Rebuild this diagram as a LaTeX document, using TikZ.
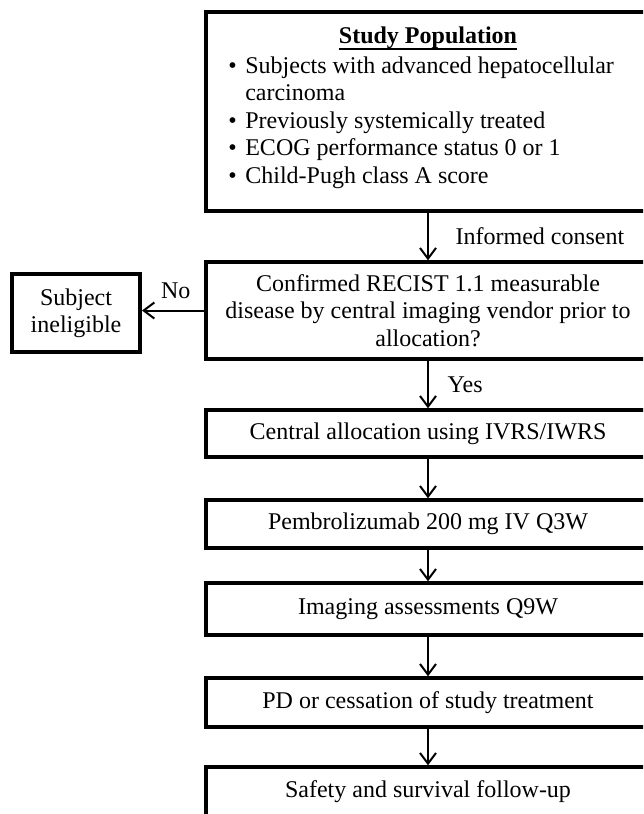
\documentclass[tikz,border=0pt]{standalone}
\usepackage{fontspec}
\setmainfont{Liberation Serif}
\usetikzlibrary{arrows.meta}
\begin{document}
\begin{tikzpicture}[x=0.75pt, y=-0.75pt, >={Straight Barb[length=8pt,width=12pt]}]
\tikzstyle{every node} = [font=\fontsize{18}{20.6}\selectfont, inner sep=0pt]
\tikzstyle{box} = [draw, line width=2.6pt, minimum width=333pt, align=center]
\tikzstyle{flow} = [->, line width=1.5pt]
\useasboundingbox (0,0) rectangle (643,814);
\clip (0,0) rectangle (643,814);
\node[box, line width=3pt, minimum height=149.25pt] (pop) at (428,111.5) {};
\node[anchor=base] (title) at (428,43) {\textbf{Study Population}};
\draw[line width=1.2pt] ([yshift=-4.5pt]title.base west) -- ([yshift=-4.5pt]title.base east);
\node[anchor=base west] (crit1) at (228,73) {\textbullet\hspace{6.5pt}Subjects with advanced hepatocellular};
\node[anchor=base west] (crit1b) at (245,100.5) {carcinoma};
\node[anchor=base west] (crit2) at (228,128) {\textbullet\hspace{6.5pt}Previously systemically treated};
\node[anchor=base west] (crit3) at (228,155.5) {\textbullet\hspace{6.5pt}ECOG performance status 0 or 1};
\node[anchor=base west] (crit4) at (228,183) {\textbullet\hspace{6.5pt}Child-Pugh class A score};
\node[box, minimum height=72.75pt] (dec) at (428,310.5) {Confirmed RECIST 1.1 measurable\\ disease by central imaging vendor prior to\\ allocation?};
\node[box, line width=3pt, minimum width=96pt, minimum height=58.5pt] (inel) at (76,313) {Subject\\ ineligible};
\node[box, minimum height=35.25pt] (alloc) at (428,433.5) {Central allocation using IVRS/IWRS};
\node[box, minimum height=36pt] (pembro) at (428,524) {Pembrolizumab 200 mg IV Q3W};
\node[box, minimum height=39pt] (imaging) at (428,609) {Imaging assessments Q9W};
\node[box, minimum height=36.75pt] (pd) at (428,702.5) {PD or cessation of study treatment};
\node[box, minimum height=37.5pt] (safety) at (428,792) {Safety and survival follow-up};
\draw[flow] (pop) -- (dec) node[midway, right=20pt] (consent) {Informed consent};
\draw[flow] (dec) -- (alloc) node[midway, right=14pt] (yes) {Yes};
\draw[flow] (dec.west) -- (dec.west -| inel.east) node[midway, above=8pt, xshift=2pt] (no) {No};
\foreach \from/\to in {alloc/pembro, pembro/imaging, imaging/pd, pd/safety}
\draw [flow] (\from) -- (\to);
\end{tikzpicture}
\end{document}
